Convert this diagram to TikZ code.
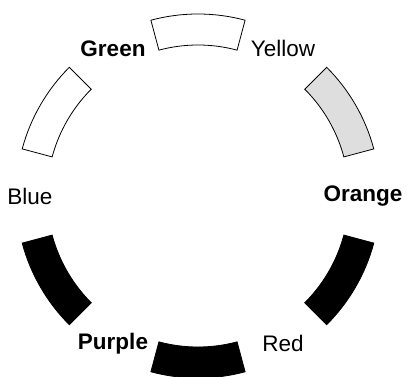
\documentclass[tikz,border=0pt]{standalone}
\usepackage{fontspec}
\setmainfont{Liberation Sans}
\tikzset{
  seg/.style={draw=black,line width=0.8pt,line join=miter},
  lbl/.style={font=\fontsize{22.5}{26}\selectfont,inner sep=0pt},
  keylbl/.style={lbl,font=\fontsize{22.5}{26}\selectfont\bfseries}
}
\begin{document}
\begin{tikzpicture}[x=1pt,y=1pt]
\useasboundingbox (-198,-181) rectangle (209,196);
% segments of the wheel
\foreach \a/\col in {90/white,150/white,30/black!13,-30/black,-90/black,-150/black}
  \draw[seg,fill=\col] (\a-15:151) arc (\a-15:\a+15:151) -- (\a+15:182)
    arc (\a+15:\a-15:182) -- cycle;
% colour names
\node[keylbl] (green) at (120:170) {Green};
\node[lbl] (yellow) at (60:170) {Yellow};
\node[lbl] (blue) at (180:168) {Blue};
\node[keylbl] (orange) at (0:165) {Orange};
\node[keylbl] (purple) at (240:170) {Purple};
\node[lbl] (red) at (300:170) {Red};
\end{tikzpicture}
\end{document}
